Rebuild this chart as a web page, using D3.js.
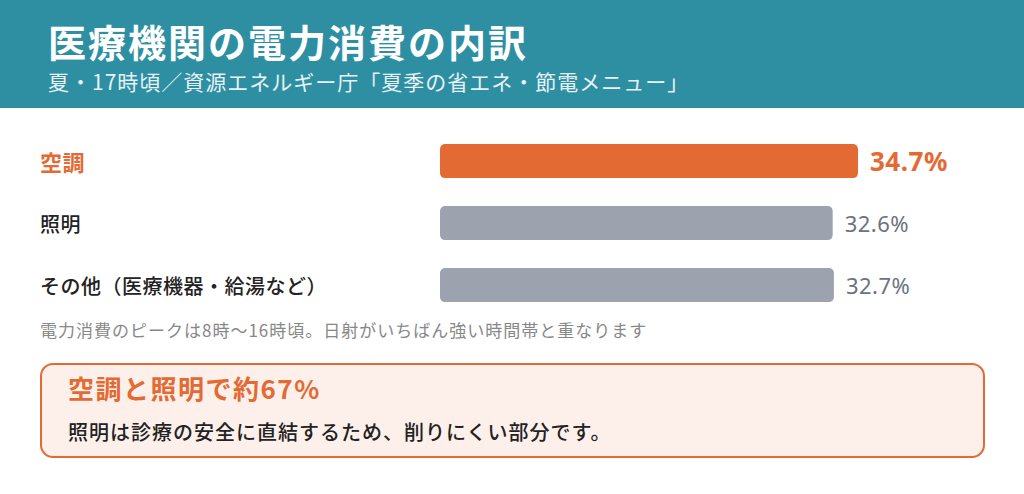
<!DOCTYPE html>
<html><head><meta charset="utf-8">
<script src="https://cdn.jsdelivr.net/npm/d3@7/dist/d3.min.js"></script>
<style>body{margin:0;background:#fff}svg{display:block;font-family:"Noto Sans CJK JP","Noto Sans",sans-serif}</style>
</head><body><svg id="c" width="1024" height="494"></svg>
<script>
const categories = ["空調", "照明", "その他（医療機器・給湯など）"];
const values = [34.7, 32.6, 32.7];
const valueLabels = ["34.7%", "32.6%", "32.7%"];
const highlight = [true, false, false];
const title = "医療機関の電力消費の内訳";
const subtitle = "夏・17時頃／資源エネルギー庁「夏季の省エネ・節電メニュー」";
const note = "電力消費のピークは8時〜16時頃。日射がいちばん強い時間帯と重なります";
const calloutTitle = "空調と照明で約67%";
const calloutBody = "照明は診療の安全に直結するため、削りにくい部分です。";

const svg = d3.select("#c");
const orange = "#E46A34", gray = "#9CA3AF";
svg.append("rect").attr("width",1024).attr("height",108).attr("fill","#2E8FA3");
svg.append("text").attr("x",48).attr("y",57).attr("fill","#fff").attr("font-size",38).attr("letter-spacing",2).attr("font-weight",700).text(title);
svg.append("text").attr("x",48).attr("y",90).attr("fill","#E6F2F5").attr("font-size",21).attr("letter-spacing",1).text(subtitle);

const x = d3.scaleLinear().domain([0, d3.max(values)]).range([440, 858]);
const y = d3.scaleBand().domain(categories).range([125.4, 320.7]).paddingInner(0.45).paddingOuter(0.3);
const g = svg.append("g");
categories.forEach((c,i)=>{
  const yy = y(c), h = y.bandwidth();
  g.append("rect").attr("x",x(0)).attr("y",yy).attr("width",x(values[i])-x(0)).attr("height",h)
   .attr("rx",5).attr("fill",highlight[i]?orange:gray);
  g.append("text").attr("x",40).attr("y",yy+h/2).attr("dominant-baseline","central")
   .attr("font-size",highlight[i]?22:20).attr("letter-spacing",0.5).attr("font-weight",highlight[i]?700:500)
   .attr("fill",highlight[i]?orange:"#222").text(c);
  g.append("text").attr("x",x(values[i])+12).attr("y",yy+h/2).attr("dominant-baseline","central")
   .attr("font-family","'Noto Sans',sans-serif")
   .attr("font-size",highlight[i]?26:22).attr("letter-spacing",0.5).attr("font-weight",highlight[i]?700:400)
   .attr("fill",highlight[i]?orange:"#6B7280").text(valueLabels[i]);
});
svg.append("text").attr("x",40).attr("y",337).attr("font-size",17).attr("letter-spacing",1).attr("fill","#888").text(note);
svg.append("rect").attr("x",41).attr("y",364).attr("width",943).attr("height",93).attr("rx",12)
  .attr("fill","#FDF0EA").attr("stroke",orange).attr("stroke-width",2);
svg.append("text").attr("x",68).attr("y",399).attr("font-size",26).attr("letter-spacing",1.5).attr("font-weight",700).attr("fill",orange).text(calloutTitle);
svg.append("text").attr("x",68).attr("y",440).attr("font-size",20).attr("letter-spacing",1).attr("font-weight",500).attr("fill","#222").text(calloutBody);
</script></body></html>
